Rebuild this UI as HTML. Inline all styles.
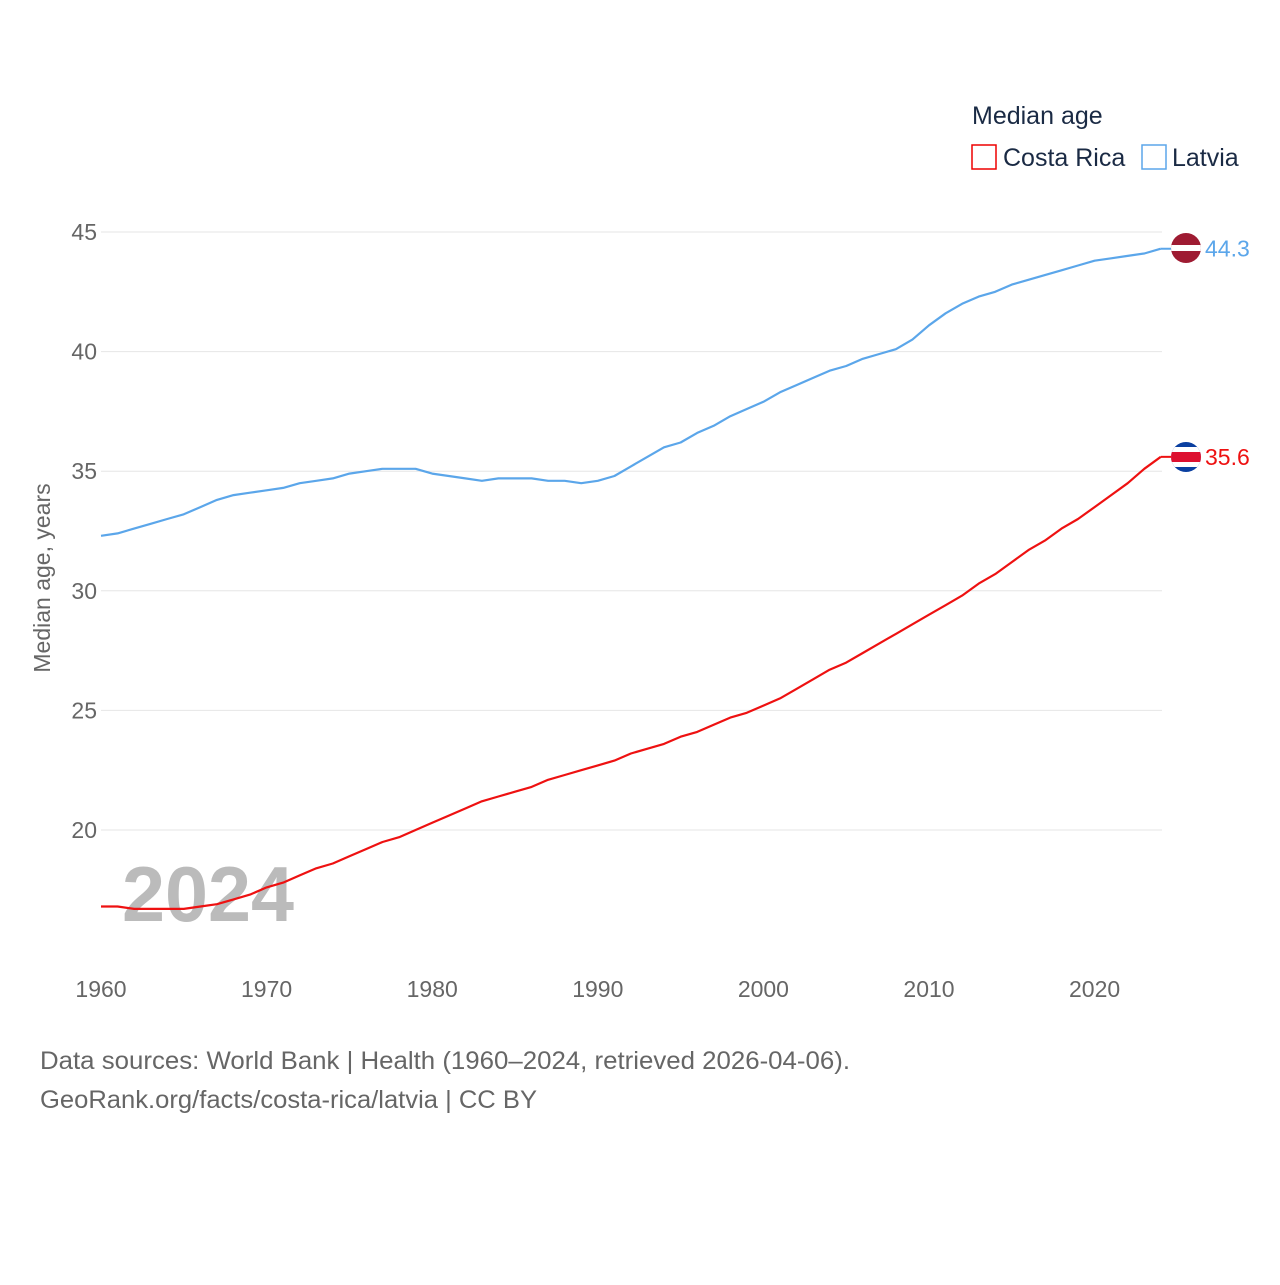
<!DOCTYPE html>
<html><head><meta charset="utf-8"><style>
body{margin:0;background:#fff;font-family:"Liberation Sans",sans-serif;}
svg text{font-family:"Liberation Sans",sans-serif;}
</style></head><body>
<svg id="chart" width="1280" height="1280" viewBox="0 0 1280 1280">
<g id="grid"></g>
<g id="yticks"></g>
<g id="xticks"></g>
<text x="50" y="578" transform="rotate(-90 50 578)" text-anchor="middle" font-size="23" fill="#666">Median age, years</text>
<text x="122" y="921" font-size="78" font-weight="bold" fill="#bbb" textLength="172" lengthAdjust="spacingAndGlyphs">2024</text>
<g id="series"></g>
<text x="972" y="124" font-size="25" fill="#1a2a44">Median age</text>
<g><rect x="972" y="145" width="24" height="24" fill="none" stroke="#e00" stroke-width="1.5"/><text x="1003" y="166" font-size="25" fill="#1a2a44">Costa Rica</text></g>
<g><rect x="1142" y="145" width="24" height="24" fill="none" stroke="#5ba6ea" stroke-width="1.5"/><text x="1172" y="166" font-size="25" fill="#1a2a44">Latvia</text></g>
<text x="40" y="1069" font-size="25" fill="#666" textLength="810" lengthAdjust="spacingAndGlyphs">Data sources: World Bank | Health (1960–2024, retrieved 2026-04-06).</text>
<text x="40" y="1108" font-size="25" fill="#666" textLength="497" lengthAdjust="spacingAndGlyphs">GeoRank.org/facts/costa-rica/latvia | CC BY</text>
<defs>
<clipPath id="c1"><circle cx="1186" cy="248" r="15"/></clipPath>
<clipPath id="c2"><circle cx="1186" cy="457" r="15"/></clipPath>
</defs>
</svg>
<script>
const years=[];for(let y=1960;y<=2024;y++)years.push(y);
const costaRica=[16.8,16.8,16.7,16.7,16.7,16.7,16.8,16.9,17.1,17.3,17.6,17.8,18.1,18.4,18.6,18.9,19.2,19.5,19.7,20.0,20.3,20.6,20.9,21.2,21.4,21.6,21.8,22.1,22.3,22.5,22.7,22.9,23.2,23.4,23.6,23.9,24.1,24.4,24.7,24.9,25.2,25.5,25.9,26.3,26.7,27.0,27.4,27.8,28.2,28.6,29.0,29.4,29.8,30.3,30.7,31.2,31.7,32.1,32.6,33.0,33.5,34.0,34.5,35.1,35.6];
const latvia=[32.3,32.4,32.6,32.8,33.0,33.2,33.5,33.8,34.0,34.1,34.2,34.3,34.5,34.6,34.7,34.9,35.0,35.1,35.1,35.1,34.9,34.8,34.7,34.6,34.7,34.7,34.7,34.6,34.6,34.5,34.6,34.8,35.2,35.6,36.0,36.2,36.6,36.9,37.3,37.6,37.9,38.3,38.6,38.9,39.2,39.4,39.7,39.9,40.1,40.5,41.1,41.6,42.0,42.3,42.5,42.8,43.0,43.2,43.4,43.6,43.8,43.9,44.0,44.1,44.3];
const yTicks=[20,25,30,35,40,45];
const xTicks=[1960,1970,1980,1990,2000,2010,2020];
const NS="http://www.w3.org/2000/svg";
const X=y=>101+(y-1960)*16.56;
const Y=v=>830-(v-20)*23.92;
function mk(t,a,p){const e=document.createElementNS(NS,t);for(const k in a)e.setAttribute(k,a[k]);p.appendChild(e);return e;}
const grid=document.getElementById('grid'),yt=document.getElementById('yticks'),xt=document.getElementById('xticks'),ser=document.getElementById('series');
yTicks.forEach(v=>{
 const l=mk('line',{x1:101,x2:1162,y1:Y(v),y2:Y(v),stroke:'#e6e6e6','stroke-width':1},grid);
 
 
 const t=mk('text',{x:97,y:Y(v)+8,'text-anchor':'end','font-size':23,fill:'#666'},yt);t.textContent=v;
 
 
});
xTicks.forEach(v=>{
 const t=mk('text',{x:X(v),y:997,'text-anchor':'middle','font-size':23,fill:'#666'},xt);t.textContent=v;
 
 
});
function line(d,c,n){
 const p=mk('path',{d:d.map((v,i)=>(i?'L':'M')+X(years[i]).toFixed(1)+','+Y(v).toFixed(1)).join(''),fill:'none',stroke:c,'stroke-width':2.2,'stroke-linejoin':'round'},ser);
 
 
 const last=d[d.length-1];
 const s=mk('line',{x1:X(2024),x2:1172,y1:Y(last),y2:Y(last),stroke:c,'stroke-width':2},ser);
 
 
 const t=mk('text',{x:1205,y:Y(last)+8,'font-size':23,fill:c},ser);t.textContent=last.toFixed(1);
 
 
}
line(latvia,'#5ba6ea','latvia-line');
line(costaRica,'#ee1111','costa-rica-line');
const svg=document.getElementById('chart');
const f1=mk('g',{'clip-path':'url(#c1)'},svg);


mk('rect',{x:1171,y:233,width:30,height:30,fill:'#9e1b32'},f1);
mk('rect',{x:1171,y:245,width:30,height:6,fill:'#fff'},f1);
const f2=mk('g',{'clip-path':'url(#c2)'},svg);


mk('rect',{x:1171,y:442,width:30,height:30,fill:'#0a3fa0'},f2);
mk('rect',{x:1171,y:447,width:30,height:20,fill:'#fff'},f2);
mk('rect',{x:1171,y:452,width:30,height:10,fill:'#dd1030'},f2);
</script>
</body></html>
